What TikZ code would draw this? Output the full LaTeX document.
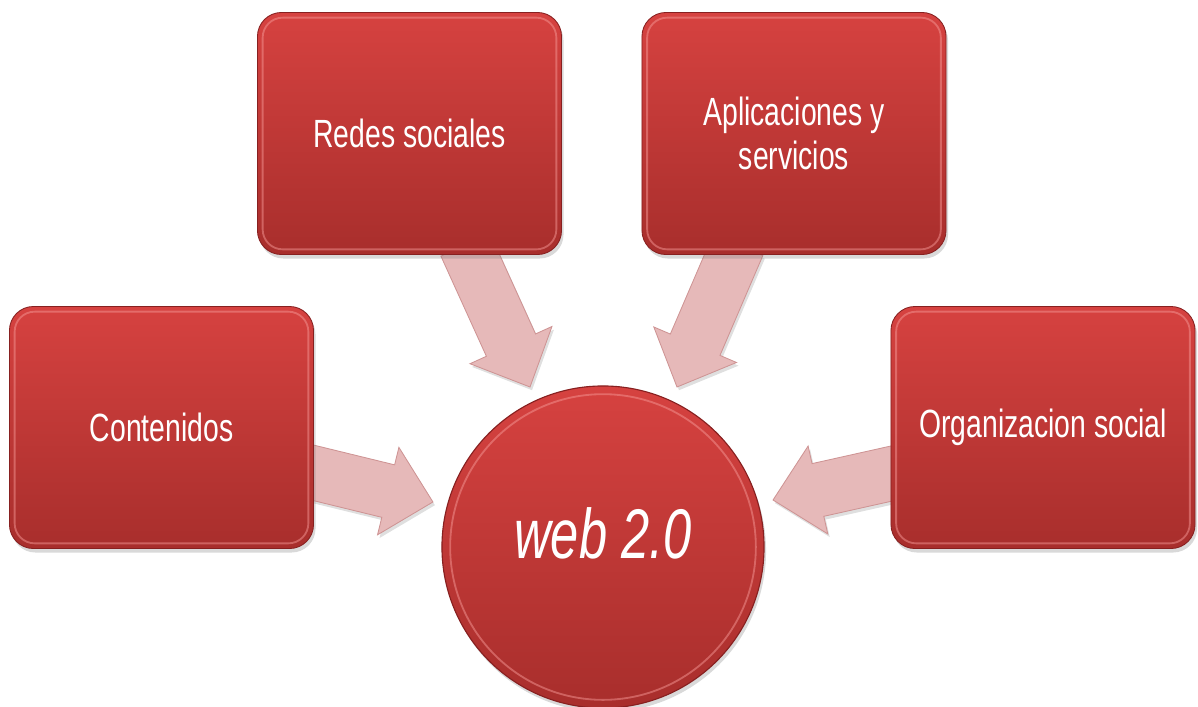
\documentclass[tikz,border=0pt]{standalone}
\usepackage{fontspec}
\setmainfont{Liberation Sans}[FakeStretch=0.72]
\usetikzlibrary{calc,shadows,backgrounds}

\definecolor{rojoclaro}{RGB}{214,66,64}
\definecolor{rojooscuro}{RGB}{168,46,44}
\definecolor{rojoborde}{RGB}{135,32,32}
\definecolor{rojobrillo}{RGB}{244,150,148}
\definecolor{rosa}{RGB}{230,185,185}
\definecolor{rosaborde}{RGB}{206,148,148}

% block arrow from #1 to #2
\newcommand{\flecha}[2]{%
  \path[flecha] let \p1=($(#2)-(#1)$), \n1={atan2(\y1,\x1)}, \n2={veclen(\x1,\y1)} in
    [shift={(#1)}, rotate=\n1]
    (0cm,-0.675cm) -- (\n2-1.15cm,-0.675cm) -- (\n2-1.15cm,-1.125cm) -- (\n2,0cm)
    -- (\n2-1.15cm,1.125cm) -- (\n2-1.15cm,0.675cm) -- (0cm,0.675cm) -- cycle;}

\tikzset{
  caja/.style={rectangle, rounded corners=0.6cm, minimum width=7.6cm, minimum height=6.05cm,
    top color=rojoclaro, bottom color=rojooscuro, draw=rojoborde, line width=0.6pt,
    text=white, font=\fontsize{28}{31.5}\selectfont, align=center, inner sep=2pt,
    drop shadow={opacity=0.3, shadow xshift=0.05cm, shadow yshift=-0.1cm}},
  brillo/.style={draw=rojobrillo, opacity=0.5, line width=1.3pt},
  flecha/.style={fill=rosa, draw=rosaborde, line width=0.6pt,
    drop shadow={opacity=0.25, shadow xshift=0.05cm, shadow yshift=-0.08cm}}
}

\begin{document}
\begin{tikzpicture}[x=0.025cm, y=-0.025cm]
    \useasboundingbox (0,0) rectangle (1198,706);

    % Draw the boxes
    \node[caja] (redes) at (409.5, 133.5) {Redes sociales};
    \node[caja] (aplic) at (794, 133.5) {Aplicaciones y\\servicios};
    \node[caja] (conten) at (161.5, 427.5) {Contenidos};
    \node[caja] (organ) at (1043, 427.5) {Organizacion social};

    % Draw the center
    \node[circle, minimum size=8.05cm, top color=rojoclaro, bottom color=rojooscuro,
      draw=rojoborde, line width=0.8pt, text=white, text depth=0.7cm,
      font=\itshape\fontsize{50}{54}\selectfont,
      drop shadow={opacity=0.3, shadow xshift=0.05cm, shadow yshift=-0.1cm}] (web) at (603, 547) {web 2.0};

    % Bevel lines
    \foreach \n in {redes, aplic, conten, organ}
      \draw[brillo, rounded corners=0.5cm] ([shift={(0.14cm,-0.14cm)}]\n.north west) rectangle ([shift={(-0.14cm,0.14cm)}]\n.south east);
    \draw[brillo] (web.center) circle[radius=3.82cm];

    % Draw the arrows
    \coordinate (tconten) at (433, 502);
    \coordinate (tredes) at (530, 387);
    \coordinate (taplic) at (677, 387);
    \coordinate (torgan) at (773, 500);
    \begin{scope}[on background layer]
      \flecha{$(conten.east)+(-10,43)$}{tconten}
      \flecha{$(redes.south)+(56,-10)$}{tredes}
      \flecha{$(aplic.south)+(-56,-10)$}{taplic}
      \flecha{$(organ.west)+(10,44)$}{torgan}
    \end{scope}

\end{tikzpicture}
\end{document}
